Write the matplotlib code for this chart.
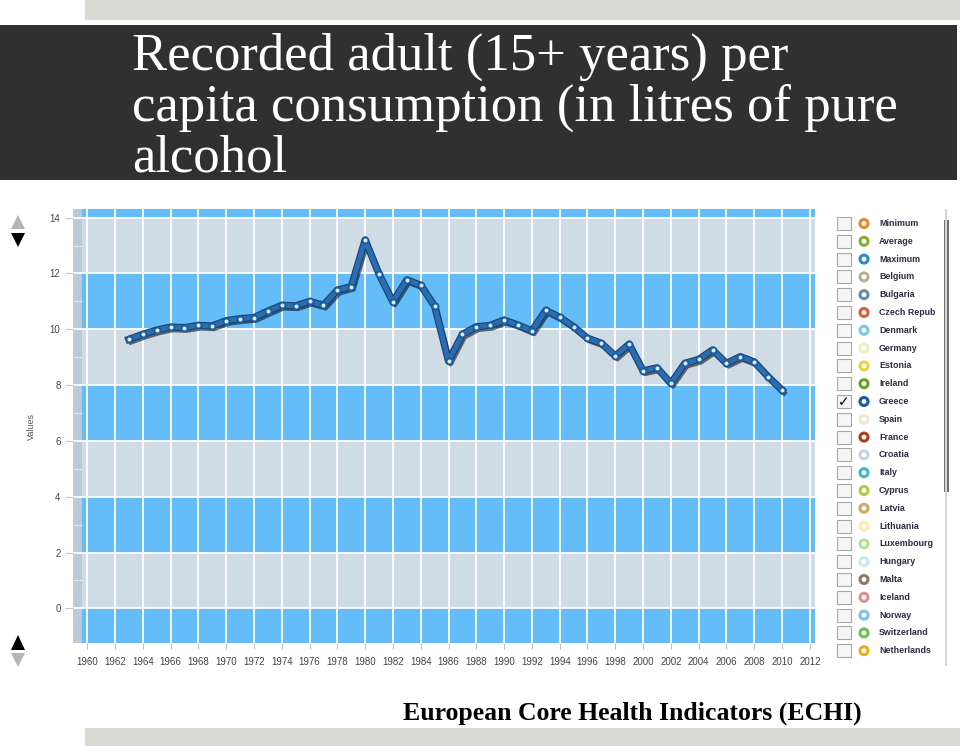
import matplotlib
matplotlib.use('Agg')
import matplotlib.pyplot as plt
import matplotlib.patheffects as pe
from matplotlib.patches import Rectangle, Polygon, Circle

# Greece, recorded adult per capita alcohol consumption (litres)
years = list(range(1963, 2011))
greece = [9.64, 9.82, 9.97, 10.08, 10.06, 10.14, 10.12, 10.31, 10.38, 10.42,
          10.65, 10.86, 10.84, 11.00, 10.86, 11.40, 11.53, 13.20, 11.98, 10.98,
          11.77, 11.58, 10.83, 8.86, 9.82, 10.09, 10.14, 10.33, 10.15, 9.94,
          10.68, 10.43, 10.09, 9.68, 9.50, 9.04, 9.47, 8.51, 8.62, 8.06,
          8.78, 8.92, 9.26, 8.78, 9.02, 8.83, 8.30, 7.82]

legend_names = ["Minimum", "Average", "Maximum", "Belgium", "Bulgaria", "Czech Repub",
                "Denmark", "Germany", "Estonia", "Ireland", "Greece", "Spain", "France",
                "Croatia", "Italy", "Cyprus", "Latvia", "Lithuania", "Luxembourg",
                "Hungary", "Malta", "Iceland", "Norway", "Switzerland", "Netherlands"]
legend_colors = ["#E08A2A", "#8AAA3A", "#2A8ACB", "#B8B294", "#6A88A8", "#E05A3A",
                 "#80C8E0", "#EEF0B8", "#F0D040", "#6AA020", "#1A5A9A", "#F0E8D4",
                 "#B03A1A", "#C8D2DC", "#40B8C0", "#B8C840", "#D0A860", "#F8F0A8",
                 "#B8E094", "#C4ECEC", "#8A7A6A", "#E09090", "#80C0E0", "#70C050",
                 "#E8B020"]
checked = "Greece"

title_lines = ["Recorded adult (15+ years) per",
               "capita consumption (in litres of pure",
               "alcohol"]
footer = "European Core Health Indicators (ECHI)"

W, H = 960, 746
fig = plt.figure(figsize=(W / 100, H / 100), dpi=100)
fig.patch.set_facecolor('white')

# overlay in pixel coordinates for the slide decorations
bg = fig.add_axes([0, 0, 1, 1])
bg.set_xlim(0, W)
bg.set_ylim(H, 0)
bg.axis('off')

bg.add_patch(Rectangle((85, 0), W - 85, 20, color='#D9DBD3', lw=0))
bg.add_patch(Rectangle((85, 728), W - 85, 18, color='#D9DBD3', lw=0))
bg.add_patch(Rectangle((0, 25), 957, 155, color='#303030', lw=0))

for i, line in enumerate(title_lines):
    bg.text(132, 70 + i * 51, line, color='white', fontsize=38,
            family='Liberation Serif', va='baseline', ha='left')
bg.text(403, 720, footer, color='black', fontsize=18.5, fontweight='bold',
        family='Liberation Serif', va='baseline', ha='left')

# scroll arrows on the left
bg.add_patch(Polygon([(11, 229), (25, 229), (18, 215)], color='#B4B4B4', lw=0))
bg.add_patch(Polygon([(11, 233), (25, 233), (18, 247)], color='black', lw=0))
bg.add_patch(Polygon([(11, 650), (25, 650), (18, 635)], color='black', lw=0))
bg.add_patch(Polygon([(11, 653), (25, 653), (18, 667)], color='#B4B4B4', lw=0))

# legend with checkboxes
for i, (name, col) in enumerate(zip(legend_names, legend_colors)):
    y = 223.5 + i * 17.8
    bg.add_patch(Rectangle((837, y - 6.5), 14, 13, facecolor='#F6F6F6',
                           edgecolor='#A8A8A8', lw=0.8))
    bg.add_patch(Circle((864, y), 4.0, facecolor='white', edgecolor=col, lw=2.2))
    bg.text(879, y, name, fontsize=6.4, fontweight='bold', color='#2A2D44',
            family='Liberation Sans', va='center', ha='left')
    if name == checked:
        bg.text(844, y + 0.5, '\u2713', fontsize=10, color='black',
                family='DejaVu Sans', va='center', ha='center')

# scrollbar
bg.plot([946, 946], [210, 665], color='#D6D6D6', lw=1.5)
bg.add_patch(Rectangle((943.5, 220), 5.5, 272, color='#6E6E6E', lw=0))

# chart
ax = fig.add_axes([73 / W, 1 - 643 / H, (815 - 73) / W, (643 - 209) / H])
ax.set_xlim(1958.98, 2012.37)
ax.set_ylim(-1.24, 14.31)

band_gray = '#CFDCE6'
band_blue = '#64BDF8'
edges = [-1.24, 0, 2, 4, 6, 8, 10, 12, 14, 14.31]
for k in range(len(edges) - 1):
    ax.axhspan(edges[k], edges[k + 1], color=band_blue if k % 2 == 0 else band_gray,
               lw=0, zorder=0)
ax.add_patch(Rectangle((0, 0), 9 / 742, 1, transform=ax.transAxes,
                       color='#BCCAD8', lw=0, zorder=0.5))

ax.set_xticks(range(1960, 2013, 2))
ax.set_yticks(range(0, 15, 2))
ax.set_yticks(range(1, 15, 2), minor=True)
ax.grid(True, which='major', color='white', lw=1.3, zorder=1)
ax.set_axisbelow(True)
for s in ax.spines.values():
    s.set_visible(False)
ax.tick_params(axis='both', which='major', labelsize=7, colors='#C4C4C4',
               labelcolor='#444444', length=4, width=0.8)
ax.tick_params(axis='y', which='major', length=6, pad=3)
ax.tick_params(axis='x', which='major', pad=6)
ax.tick_params(axis='y', which='minor', direction='in', length=6.5,
               color='#E4EAF0', width=0.8)
for lab in ax.get_xticklabels() + ax.get_yticklabels():
    lab.set_family('Liberation Sans')
ax.set_ylabel('Values', fontsize=6.5, color='#555555', family='Liberation Sans',
              labelpad=10)

ax.plot(years, greece, color='#2A6DB2', lw=3.6, solid_joinstyle='round', zorder=3,
        path_effects=[pe.SimpleLineShadow(offset=(1.5, -2), shadow_color='black', alpha=0.55),
                      pe.Stroke(linewidth=5.2, foreground='#17426E'),
                      pe.Normal()])
ax.plot(years, greece, ls='none', marker='o', ms=4.3, mfc='#D6EEFF',
        mec='#1C5C9C', mew=1.4, zorder=4)

fig.savefig('out.png', dpi=100)
